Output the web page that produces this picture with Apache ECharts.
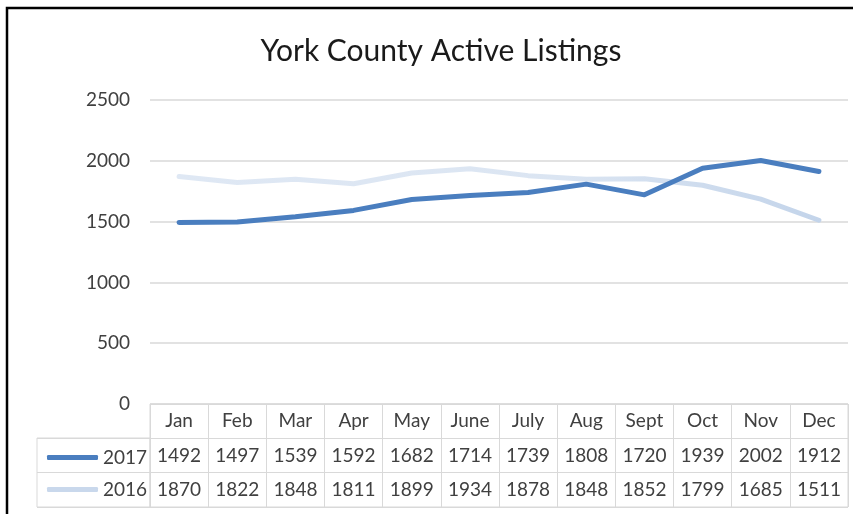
<!DOCTYPE html>
<html>
<head>
<meta charset="utf-8">
<title>York County Active Listings</title>
<script src="https://cdn.jsdelivr.net/npm/echarts@6/dist/echarts.min.js"></script>
<style>
  html, body { margin: 0; padding: 0; background: #fff; }
  #chart { width: 853px; height: 514px; }
</style>
</head>
<body>
<div id="chart"></div>
<script>
// data
const months = ['Jan', 'Feb', 'Mar', 'Apr', 'May', 'June', 'July', 'Aug', 'Sept', 'Oct', 'Nov', 'Dec'];
const listings2017 = [1492, 1497, 1539, 1592, 1682, 1714, 1739, 1808, 1720, 1939, 2002, 1912];
const listings2016 = [1870, 1822, 1848, 1811, 1899, 1934, 1878, 1848, 1852, 1799, 1685, 1511];
const seriesNames = ['2017', '2016'];

const textColor = '#404040';
const gridColor = '#d9d9d9';
const fontFamily = 'Lato, "Open Sans", sans-serif';
const color2017 = '#4a7ebf';
const color2016 = '#c9d8ec';

const chart = echarts.init(document.getElementById('chart'));

// shared settings for the table axes
const tableAxis = (offset, formatter, withSplit) => ({
  type: 'category',
  gridIndex: 1,
  data: months,
  position: 'bottom',
  offset: offset,
  boundaryGap: true,
  axisLine: { show: false },
  axisTick: { show: false, interval: 0 },
  splitLine: { show: withSplit, interval: 0, lineStyle: { color: gridColor, width: 1 } },
  axisLabel: {
    interval: 0,
    margin: 0,
    verticalAlign: 'middle',
    color: textColor,
    fontSize: 19,
    fontFamily: fontFamily,
    formatter: formatter,
  },
});

const option = {
  animation: false,
  backgroundColor: '#fff',
  title: {
    text: 'York County Active Listings',
    left: 436,
    top: 31,
    textAlign: 'center',
    textStyle: {
      color: '#1a1a1a',
      fontSize: 30,
      fontWeight: 'normal',
      fontFamily: fontFamily,
    },
  },
  // outer frame of the picture
  graphic: [{
    type: 'rect',
    shape: { x: 7, y: 8, width: 900, height: 600 },
    style: { fill: 'none', stroke: '#000', lineWidth: 2.5 },
  }],
  legend: {
    orient: 'vertical',
    left: 42,
    top: 443,
    icon: 'roundRect',
    itemWidth: 51,
    itemHeight: 5,
    itemGap: 13,
    selectedMode: false,
    itemStyle: { borderWidth: 0 },
    data: [
      { name: '2017', itemStyle: { color: color2017 } },
      { name: '2016', itemStyle: { color: color2016 } },
    ],
    textStyle: { color: textColor, fontSize: 19, fontFamily: fontFamily },
  },
  grid: [
    { left: 150, right: 5, top: 100, height: 304 },
    { left: 150, right: 5, top: 404, height: 103, show: true, borderColor: gridColor, borderWidth: 1 },
    { left: 37, width: 113, top: 438, height: 69, show: true, borderColor: gridColor, borderWidth: 1 },
  ],
  xAxis: [
    {
      type: 'category',
      gridIndex: 0,
      data: months,
      boundaryGap: true,
      axisLine: { show: false },
      axisTick: { show: false },
      axisLabel: { show: false },
    },
    tableAxis(-85.8, (v) => v, true),
    tableAxis(-51.5, (v, i) => String(listings2017[i]), false),
    tableAxis(-17.2, (v, i) => String(listings2016[i]), false),
    { type: 'value', gridIndex: 2, show: false },
  ],
  yAxis: [
    {
      type: 'value',
      gridIndex: 0,
      min: 0,
      max: 2500,
      interval: 500,
      axisLine: { show: false },
      axisTick: { show: false },
      splitLine: { lineStyle: { color: gridColor, width: 1.5 } },
      axisLabel: {
        margin: 20,
        color: textColor,
        fontSize: 19,
        fontFamily: fontFamily,
        formatter: (v) => String(v),
      },
    },
    {
      type: 'category',
      gridIndex: 1,
      data: ['a', 'b', 'c'],
      axisLine: { show: false },
      axisTick: { show: false, interval: 0 },
      axisLabel: { show: false },
      splitLine: { show: true, interval: 0, lineStyle: { color: gridColor, width: 1 } },
    },
    {
      type: 'category',
      gridIndex: 2,
      data: seriesNames,
      axisLine: { show: false },
      axisTick: { show: false, interval: 0 },
      axisLabel: { show: false },
      splitLine: { show: true, interval: 0, lineStyle: { color: gridColor, width: 1 } },
    },
  ],
  series: [
    {
      name: '2017',
      type: 'line',
      xAxisIndex: 0,
      yAxisIndex: 0,
      data: listings2017,
      symbol: 'none',
      z: 3,
      itemStyle: { color: color2017 },
      lineStyle: { color: color2017, width: 5, cap: 'round', join: 'round' },
    },
    {
      name: '2016',
      type: 'line',
      xAxisIndex: 0,
      yAxisIndex: 0,
      data: listings2016,
      symbol: 'none',
      z: 2,
      itemStyle: { color: color2016 },
      lineStyle: {
        width: 5,
        cap: 'round',
        join: 'round',
        color: new echarts.graphic.LinearGradient(0, 0, 1, 0, [
          { offset: 0, color: '#dfe8f4' },
          { offset: 0.6, color: '#dbe5f2' },
          { offset: 1, color: '#c3d4ea' },
        ]),
      },
    },
  ],
};

chart.setOption(option);
</script>
</body>
</html>
